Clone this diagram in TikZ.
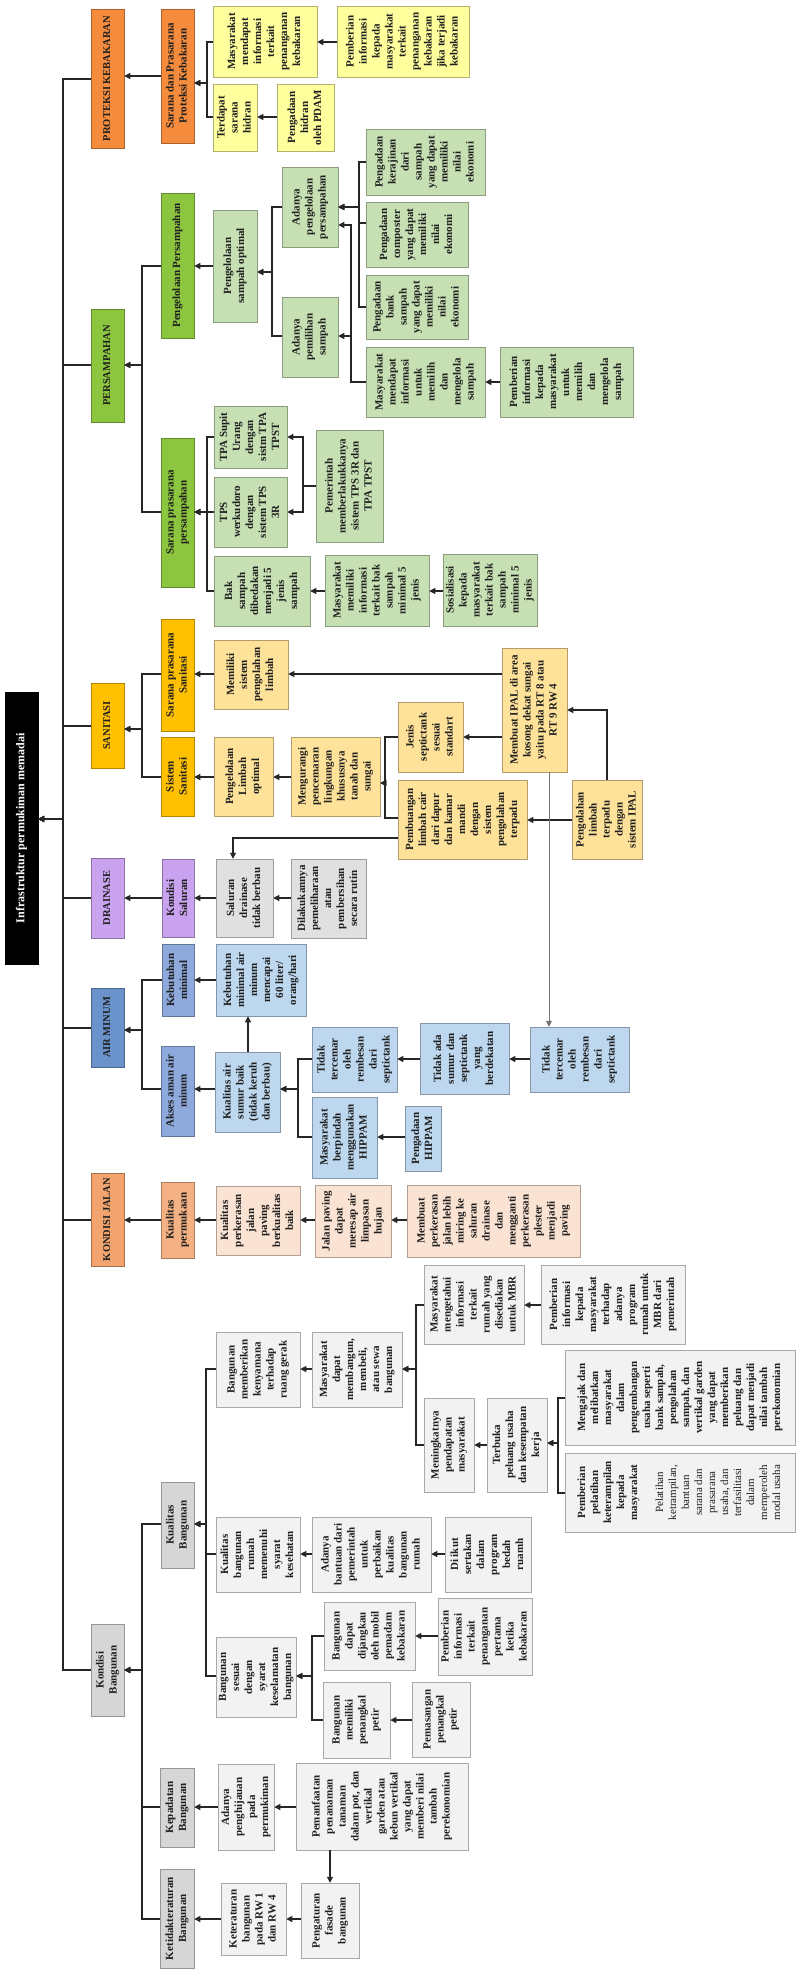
\documentclass[tikz,border=0pt]{standalone}
\usepackage{fontspec}
\setmainfont{Liberation Serif}
\usepackage{graphicx}
\usetikzlibrary{arrows.meta}
\definecolor{orangeC}{HTML}{F58B3C}
\definecolor{yellowC}{HTML}{FFFF9E}
\definecolor{greenC}{HTML}{8CC63F}
\definecolor{lgreenC}{HTML}{C6E0B4}
\definecolor{amberC}{HTML}{FFC000}
\definecolor{lamberC}{HTML}{FFE29A}
\definecolor{purpleC}{HTML}{C9A3F0}
\definecolor{greyC}{HTML}{D6D6D6}
\definecolor{grey2C}{HTML}{E0E0E0}
\definecolor{lgreyC}{HTML}{F2F2F2}
\definecolor{blueC}{HTML}{6A93CC}
\definecolor{blueMC}{HTML}{8EA9DB}
\definecolor{lblueC}{HTML}{BDD7EE}
\definecolor{salmonC}{HTML}{F2A46E}
\definecolor{salmonMC}{HTML}{F4B183}
\definecolor{lsalmonC}{HTML}{FBE3D3}
\newcommand\rt[1]{\rotatebox{90}{\begin{tabular}{@{}c@{}}#1\end{tabular}}}
\newcommand\bx[7]{\node[#6, minimum width={(#4-#2)*1pt}, minimum height={(#5-#3)*1pt}] (#1) at ({(#2+#4)/2},{(#3+#5)/2}) {\rt{#7}};}
\newcommand\ha[3]{\draw[arr] (#1.west |- 0,#3) -- (#2.east |- 0,#3);}
\newcommand\br[5]{\draw[arr] (#1.west |- 0,#2) -| (#3,#4) -- (#5.east |- 0,#4);}
\newcommand\m{\mdseries}
\tikzset{
  bx/.style={draw=#1!70!black, fill=#1, line width=0.5pt, inner sep=0pt,
    font=\fontsize{11}{13}\selectfont\bfseries, text=black!88},
  catbx/.style={bx=#1, font=\fontsize{10.5}{13}\selectfont\bfseries},
  rootbx/.style={draw=black, fill=black, inner sep=0pt, text=white,
    font=\fontsize{12}{14}\selectfont\bfseries},
  arr/.style={draw=black!85, line width=1.1pt, -{Triangle[length=6pt,width=6pt]}},
  arrg/.style={draw=black!55, line width=0.9pt, -{Triangle[length=6pt,width=6pt]}},
}
\begin{document}
\begin{tikzpicture}[x=1pt,y=-1pt]
\fill[white] (0,0) rectangle (795,1977);
\useasboundingbox (0,0) rectangle (795,1977);

% root and categories
\bx{root}{5}{692}{38}{964}{rootbx}{Infrastruktur permukiman memadai}
\bx{cPK}{91}{9}{124}{148}{catbx=orangeC}{PROTEKSI KEBAKARAN}
\bx{cPS}{91}{309}{124}{422}{catbx=greenC}{PERSAMPAHAN}
\bx{cSN}{91}{683}{124}{768}{catbx=amberC}{SANITASI}
\bx{cDR}{91}{858}{124}{938}{catbx=purpleC}{DRAINASE}
\bx{cAM}{91}{988}{124}{1067}{catbx=blueC}{AIR MINUM}
\bx{cKJ}{91}{1173}{124}{1266}{catbx=salmonC}{KONDISI JALAN}
\bx{cKB}{91}{1624}{124}{1716}{bx=greyC}{Kondisi\\Bangunan}

% PROTEKSI KEBAKARAN
\bx{pkL2}{161}{9}{194}{143}{bx=orangeC}{Sarana dan Prasarana\\Proteksi Kebakaran}
\bx{pk1}{213}{6}{317}{77}{bx=yellowC}{Masyarakat\\mendapat\\informasi\\terkait\\penanganan\\kebakaran}
\bx{pk2}{213}{84}{257}{151}{bx=yellowC}{Terdapat\\sarana\\hidran}
\bx{pk3}{337}{6}{469}{77}{bx=yellowC}{Pemberian\\informasi\\kepada\\masyarakat\\terkait\\penanganan\\kebakaran\\jika terjadi\\kebakaran}
\bx{pk4}{277}{84}{334}{151}{bx=yellowC}{Pengadaan\\hidran\\oleh PDAM}

% PERSAMPAHAN
\bx{psL2a}{161}{193}{194}{338}{bx=greenC}{Pengelolaan Persampahan}
\bx{psL2b}{161}{438}{194}{587}{bx=greenC}{Sarana prasarana\\persampahan}
\bx{ps1}{213}{210}{257}{322}{bx=lgreenC}{Pengelolaan\\sampah optimal}
\bx{ps2}{282}{167}{338}{247}{bx=lgreenC}{Adanya\\pengelolaan\\persampahan}
\bx{ps3}{282}{297}{338}{377}{bx=lgreenC}{Adanya\\pemilihan\\sampah}
\bx{ps4}{366}{129}{485}{195}{bx=lgreenC}{Pengadaan\\kerajinan\\dari\\sampah\\yang dapat\\memiliki\\nilai\\ekonomi}
\bx{ps5}{366}{202}{468}{267}{bx=lgreenC}{Pengadaan\\composter\\yang dapat\\memiliki\\nilai\\ekonomi}
\bx{ps6}{366}{275}{468}{339}{bx=lgreenC}{Pengadaan\\bank\\sampah\\yang dapat\\memiliki\\nilai\\ekonomi}
\bx{ps7}{366}{347}{485}{417}{bx=lgreenC}{Masyarakat\\mendapat\\informasi\\untuk\\memilih\\dan\\mengelola\\sampah}
\bx{ps8}{500}{347}{633}{417}{bx=lgreenC}{Pemberian\\informasi\\kepada\\masyarakat\\untuk\\memilih\\dan\\mengelola\\sampah}
\bx{ps9}{214}{406}{287}{468}{bx=lgreenC}{TPA Supit\\Urang\\dengan\\sistm TPA\\TPST}
\bx{ps10}{214}{477}{287}{547}{bx=lgreenC}{TPS\\werkudoro\\dengan\\sistem TPS\\3R}
\bx{ps11}{214}{556}{310}{626}{bx=lgreenC}{Bak\\sampah\\dibedakan\\menjadi 5\\jenis\\sampah}
\bx{ps12}{316}{430}{383}{542}{bx=lgreenC}{Pemerintah\\memberlakukkanya\\sistem TPS 3R dan\\TPA TPST}
\bx{ps13}{325}{555}{429}{626}{bx=lgreenC}{Masyarakat\\memiliki\\informasi\\terkait bak\\sampah\\minimal 5\\jenis}
\bx{ps14}{443}{554}{537}{626}{bx=lgreenC}{Sosialisasi\\kepada\\masyarakat\\terkait bak\\sampah\\minimal 5\\jenis}

% SANITASI
\bx{snL2a}{161}{619}{194}{731}{bx=amberC}{Sarana prasarana\\Sanitasi}
\bx{snL2b}{161}{737}{194}{816}{bx=amberC}{Sistem\\Sanitasi}
\bx{sn1}{214}{640}{288}{709}{bx=lamberC}{Memiliki\\sistem\\pengolahan\\limbah}
\bx{sn2}{214}{737}{273}{816}{bx=lamberC}{Pengelolaan\\Limbah\\optimal}
\bx{sn3}{291}{737}{380}{816}{bx=lamberC}{Mengurangi\\pencemaran\\lingkungan\\khususnya\\tanah dan\\sungai}
\bx{sn4}{398}{702}{463}{772}{bx=lamberC}{Jenis\\septictank\\sesuai\\standart}
\bx{sn5}{398}{780}{527}{859}{bx=lamberC}{Pembuangan\\limbah cair\\dari dapur\\dan kamar\\mandi\\dengan\\sistem\\pengolahan\\terpadu}
\bx{sn6}{502}{648}{567}{772}{bx=lamberC}{Membuat IPAL di area\\kosong dekat sungai\\yaitu pada RT 8 atau\\RT 9 RW 4}
\bx{sn7}{572}{780}{642}{859}{bx=lamberC}{Pengolahan\\limbah\\terpadu\\dengan\\sistem IPAL}

% DRAINASE
\bx{drL2}{162}{859}{194}{937}{bx=purpleC}{Kondisi\\Saluran}
\bx{dr1}{216}{859}{273}{937}{bx=grey2C}{Saluran\\drainase\\tidak berbau}
\bx{dr2}{291}{859}{366}{938}{bx=grey2C}{Dilakukannya\\pemeliharaan\\atau\\pembersihan\\secara rutin}

% AIR MINUM
\bx{amL2a}{162}{944}{194}{1016}{bx=blueMC}{Kebutuhan\\minimal}
\bx{amL2b}{161}{1046}{194}{1136}{bx=blueMC}{Akses aman air\\minum}
\bx{am1}{216}{944}{306}{1016}{bx=lblueC}{Kebutuhan\\minimal air\\minum\\mencapai\\60 liter/\\orang/hari}
\bx{am2}{215}{1052}{280}{1132}{bx=lblueC}{Kualitas air\\sumur baik\\(tidak keruh\\dan berbau)}
\bx{am3}{312}{1027}{397}{1092}{bx=lblueC}{Tidak\\tercemar\\oleh\\rembesan\\dari\\septictank}
\bx{am4}{312}{1097}{377}{1178}{bx=lblueC}{Masyarakat\\berpindah\\menggunakan\\HIPPAM}
\bx{am5}{420}{1023}{509}{1094}{bx=lblueC}{Tidak ada\\sumur dan\\septictank\\yang\\berdekatan}
\bx{am6}{530}{1027}{629}{1092}{bx=lblueC}{Tidak\\tercemar\\oleh\\rembesan\\dari\\septictank}
\bx{am7}{405}{1106}{441}{1171}{bx=lblueC}{Pengadaan\\HIPPAM}

% KONDISI JALAN
\bx{kjL2}{161}{1182}{194}{1258}{bx=salmonMC}{Kualitas\\permukaan}
\bx{kj1}{216}{1186}{300}{1255}{bx=lsalmonC}{Kualitas\\perkerasan\\jalan\\paving\\berkualitas\\baik}
\bx{kj2}{315}{1185}{391}{1257}{bx=lsalmonC}{Jalan paving\\dapat\\meresap air\\limpasan\\hujan}
\bx{kj3}{407}{1185}{580}{1257}{bx=lsalmonC}{Membuat\\perkerasan\\jalan lebih\\miring ke\\saluran\\drainase\\dan\\mengganti\\perkerasan\\plester\\menjadi\\paving}

% KONDISI BANGUNAN
\bx{kbL2a}{161}{1482}{194}{1568}{bx=greyC}{Kualitas\\Bangunan}
\bx{kbL2b}{160}{1768}{194}{1847}{bx=greyC}{Kepadatan\\Bangunan}
\bx{kbL2c}{160}{1869}{194}{1968}{bx=greyC}{Ketidakteraturan\\Bangunan}
\bx{kb1}{216}{1332}{300}{1407}{bx=lgreyC}{Bangunan\\memberikan\\kenyamana\\terhadap\\ruang gerak}
\bx{kb2}{216}{1517}{300}{1592}{bx=lgreyC}{Kualitas\\bangunan\\rumah\\memenuhi\\syarat\\kesehatan}
\bx{kb3}{216}{1637}{296}{1717}{bx=lgreyC}{Bangunan\\sesuai\\dengan\\syarat\\keselamatan\\bangunan}
\bx{kb4}{312}{1332}{402}{1407}{bx=lgreyC}{Masyarakat\\dapat\\membangun,\\membeli,\\atau sewa\\bangunan}
\bx{kb5}{424}{1265}{524}{1344}{bx=lgreyC}{Masyarakat\\mengetahui\\informasi\\terkait\\rumah yang\\disediakan\\untuk MBR}
\bx{kb6}{541}{1265}{685}{1344}{bx=lgreyC}{Pemberian\\informasi\\kepada\\masyarakat\\terhadap\\adanya\\program\\rumah untuk\\MBR dari\\pemerintah}
\bx{kb7}{424}{1398}{474}{1492}{bx=lgreyC}{Meningkatnya\\pendapatan\\masyarakat}
\bx{kb8}{487}{1398}{547}{1492}{bx=lgreyC}{Terbuka\\peluang usaha\\dan kesempatan\\kerja}
\bx{kb9}{565}{1350}{795}{1445}{bx=lgreyC}{Mengajak dan\\melibatkan\\masyarakat\\dalam\\pengembangan\\usaha seperti\\bank sampah,\\pengolahan\\sampah, dan\\vertikal garden\\yang dapat\\memberikan\\peluang dan\\dapat menjadi\\nilai tambah\\perekonomian}
\bx{kb10}{565}{1453}{795}{1532}{bx=lgreyC}{Pemberian\\pelatihan\\keterampilan\\kepada\\masyarakat\\ \\\m Pelatihan\\\m ketrampilan,\\\m bantuan\\\m sarana dan\\\m prasarana\\\m usaha, dan\\\m terfasilitasi\\\m dalam\\\m memperoleh\\\m modal usaha}
\bx{kb11}{312}{1517}{431}{1592}{bx=lgreyC}{Adanya\\bantuan dari\\pemerintah\\untuk\\perbaikan\\kualitas\\bangunan\\rumah}
\bx{kb12}{445}{1517}{531}{1592}{bx=lgreyC}{Di ikut\\sertakan\\dalam\\program\\bedah\\ruamh}
\bx{kb13}{324}{1602}{415}{1670}{bx=lgreyC}{Bangunan\\dapat\\dijangkau\\oleh mobil\\pemadam\\kebakaran}
\bx{kb14}{438}{1598}{532}{1675}{bx=lgreyC}{Pemberian\\informasi\\terkait\\penanganan\\pertama\\ketika\\kebakaran}
\bx{kb15}{323}{1682}{390}{1758}{bx=lgreyC}{Bangunan\\memiliki\\penangkal\\petir}
\bx{kb16}{412}{1682}{470}{1757}{bx=lgreyC}{Pemasangan\\penangkal\\petir}
\bx{kb17}{218}{1764}{274}{1850}{bx=lgreyC}{Adanya\\penghijauan\\pada\\permukiman}
\bx{kb18}{296}{1763}{468}{1850}{bx=lgreyC}{Pemanfaatan\\penanaman\\tanaman\\dalam pot, dan\\vertikal\\garden atau\\kebun vertikal\\yang dapat\\memberi nilai\\tambah\\perekonomian}
\bx{kb19}{221}{1883}{286}{1955}{bx=lgreyC}{Keteraturan\\bangunan\\pada RW 1\\dan RW 4}
\bx{kb20}{301}{1883}{359}{1958}{bx=lgreyC}{Pengaturan\\fasade\\bangunan}

% ---- connectors ----
% trunk
\br{cPK}{79}{63}{819}{root}
\br{cPS}{365}{63}{819}{root}
\br{cSN}{726}{63}{819}{root}
\br{cDR}{898}{63}{819}{root}
\br{cAM}{1028}{63}{819}{root}
\br{cKJ}{1220}{63}{819}{root}
\br{cKB}{1670}{63}{819}{root}
% level 2
\ha{pkL2}{cPK}{76}
\br{psL2a}{266}{142}{365}{cPS}
\br{psL2b}{512}{142}{365}{cPS}
\br{snL2a}{674}{142}{729}{cSN}
\br{snL2b}{777}{142}{729}{cSN}
\ha{drL2}{cDR}{898}
\br{amL2a}{980}{142}{1030}{cAM}
\br{amL2b}{1089}{142}{1030}{cAM}
\ha{kjL2}{cKJ}{1220}
\br{kbL2a}{1524}{142}{1670}{cKB}
\br{kbL2b}{1807}{142}{1670}{cKB}
\br{kbL2c}{1919}{142}{1670}{cKB}
% proteksi
\br{pk1}{42}{207}{83}{pkL2}
\br{pk2}{117}{207}{83}{pkL2}
\ha{pk3}{pk1}{42}
\ha{pk4}{pk2}{117}
% persampahan
\ha{ps1}{psL2a}{266}
\br{ps2}{207}{272}{272}{ps1}
\br{ps3}{336}{272}{272}{ps1}
\br{ps4}{162}{359}{207}{ps2}
\br{ps5}{223}{359}{207}{ps2}
\br{ps6}{307}{359}{207}{ps2}
\br{ps7}{382}{351}{225}{ps2}
\br{ps7}{382}{351}{336}{ps3}
\ha{ps8}{ps7}{382}
\br{ps9}{437}{207}{512}{psL2b}
\br{ps10}{512}{207}{512}{psL2b}
\br{ps11}{591}{207}{512}{psL2b}
\br{ps12}{486}{303}{437}{ps9}
\br{ps12}{486}{303}{512}{ps10}
\ha{ps13}{ps11}{591}
\ha{ps14}{ps13}{591}
% sanitasi
\ha{sn1}{snL2a}{674}
\ha{sn6}{sn1}{674}
\ha{sn2}{snL2b}{777}
\ha{sn3}{sn2}{777}
\br{sn4}{737}{385}{783}{sn3}
\br{sn5}{818}{385}{783}{sn3}
\ha{sn6}{sn4}{737}
\ha{sn7}{sn5}{820}
\draw[arr] (sn7.north -| 607,0) |- (sn6.east |- 0,710);
\draw[arrg] (sn6.south -| 549,0) -- (am6.north -| 549,0);
\draw[arr] (sn5.west |- 0,838) -| (dr1.north -| 233,0);
% drainase
\ha{dr1}{drL2}{898}
\ha{dr2}{dr1}{898}
% air minum
\ha{am1}{amL2a}{980}
\ha{am2}{amL2b}{1089}
\draw[arr] (am2.north -| 248,0) -- (am1.south -| 248,0);
\br{am3}{1059}{298}{1089}{am2}
\br{am4}{1137}{298}{1089}{am2}
\ha{am5}{am3}{1059}
\ha{am6}{am5}{1059}
\ha{am7}{am4}{1137}
% kondisi jalan
\ha{kj1}{kjL2}{1220}
\ha{kj2}{kj1}{1220}
\ha{kj3}{kj2}{1220}
% kondisi bangunan
\br{kb1}{1369}{206}{1524}{kbL2a}
\br{kb2}{1554}{206}{1524}{kbL2a}
\br{kb3}{1676}{206}{1524}{kbL2a}
\ha{kb4}{kb1}{1369}
\br{kb5}{1305}{416}{1369}{kb4}
\br{kb7}{1445}{416}{1369}{kb4}
\ha{kb6}{kb5}{1305}
\ha{kb8}{kb7}{1445}
\br{kb9}{1398}{558}{1443}{kb8}
\br{kb10}{1493}{558}{1443}{kb8}
\ha{kb11}{kb2}{1554}
\ha{kb12}{kb11}{1554}
\br{kb13}{1636}{312}{1676}{kb3}
\br{kb15}{1720}{312}{1676}{kb3}
\ha{kb14}{kb13}{1636}
\ha{kb16}{kb15}{1720}
\ha{kb17}{kbL2b}{1807}
\ha{kb18}{kb17}{1807}
\ha{kb19}{kbL2c}{1919}
\ha{kb20}{kb19}{1919}
\draw[arr] (kb18.south -| 330,0) -- (kb20.north -| 330,0);
\end{tikzpicture}
\end{document}
